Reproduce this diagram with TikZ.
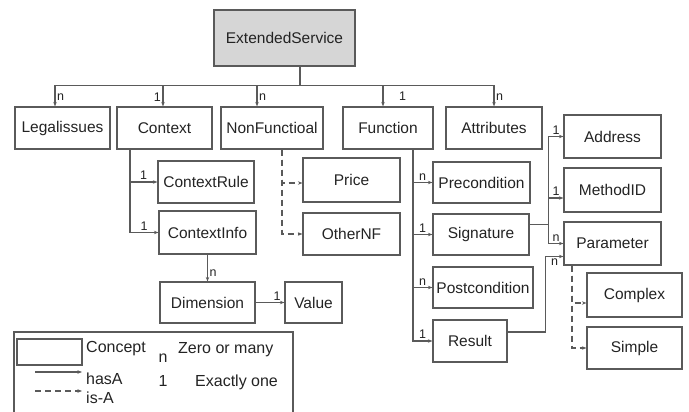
\documentclass[tikz,border=0pt]{standalone}
\usepackage{fontspec}
\setmainfont{Liberation Sans}
\usetikzlibrary{arrows.meta}
\definecolor{linegray}{RGB}{90,90,90}
\definecolor{textgray}{RGB}{35,35,35}
\definecolor{esfill}{RGB}{214,214,214}
\begin{document}
\begin{tikzpicture}[x=1pt,y=-1pt,
	concept/.style={draw=linegray,line width=1.2pt,text=textgray,inner sep=0pt,font=\fontsize{15.5}{17}\selectfont},
	box/.style 2 args={concept,minimum width=#1,minimum height=#2},
	hasA/.style={draw=linegray,line width=1.1pt,-{Stealth[length=4.5pt,width=3.5pt]}},
	isA/.style={hasA,dash pattern=on 6pt off 4pt},
	card/.style={text=textgray,inner sep=1.5pt,font=\fontsize{12.5}{14}\selectfont},
	legtext/.style={text=textgray,inner sep=0pt,font=\fontsize{16}{18}\selectfont}]
	\useasboundingbox (0,0) rectangle (689,412);
	% top level
	\node[box={141}{56},fill=esfill] (es) at (284.5,38) {ExtendedService};
	\node[box={95}{42}] (legal) at (62.5,128) {Legalissues};
	\node[box={95}{42}] (context) at (164.5,128) {Context};
	\node[box={102}{42}] (nonf) at (272,128) {NonFunctioal};
	\node[box={90}{42}] (function) at (388,128) {Function};
	\node[box={96}{42}] (attributes) at (494,128) {Attributes};
	\draw[draw=linegray,line width=1.1pt] ([xshift=15.5pt]es.south) -- ++(0,19) coordinate (bus);
	\draw[hasA] (bus) -| ([xshift=-7.5pt]legal.north) node[card,pos=0.78,right]{n};
	\draw[hasA] (bus) -| ([xshift=-1.5pt]context.north) node[card,pos=0.78,left]{1};
	\draw[hasA] (bus) -| ([xshift=-15pt]nonf.north) node[card,pos=0.78,right]{n};
	\draw[hasA] (bus) -| ([xshift=-5pt]function.north) node[card,pos=0.76,right=14pt]{1};
	\draw[hasA] (bus) -| (attributes.north) node[card,pos=0.78,right]{n};
	% context
	\node[box={96}{42}] (crule) at (206,182) {ContextRule};
	\node[box={97}{43}] (cinfo) at (207.5,232.5) {ContextInfo};
	\node[box={95}{41}] (dim) at (207.5,302.5) {Dimension};
	\node[box={57}{41}] (value) at (313.5,302.5) {Value};
	\draw[hasA] ([xshift=-34.5pt]context.south) |- (crule.west) node[card,pos=0.75,above]{1};
	\draw[hasA] ([xshift=-34.5pt]context.south) |- (cinfo.west) node[card,pos=0.75,above]{1};
	\draw[hasA] (cinfo.south) -- (dim.north) node[card,pos=0.7,right]{n};
	\draw[hasA] (dim.east) -- (value.west) node[card,pos=0.75,above]{1};
	% non functional
	\node[box={97}{44}] (price) at (351.5,180) {Price};
	\node[box={97}{42}] (othernf) at (351.5,234) {OtherNF};
	\draw[isA] ([xshift=10pt]nonf.south) |- ([yshift=-3pt]price.west);
	\draw[isA] ([xshift=10pt]nonf.south) |- (othernf.west);
	% function
	\node[box={97}{41}] (precond) at (481.5,182.5) {Precondition};
	\node[box={96}{41}] (sig) at (481,234.5) {Signature};
	\node[box={100}{41}] (postcond) at (483,287.5) {Postcondition};
	\node[box={74}{42}] (result) at (470,341) {Result};
	\draw[hasA] ([xshift=25pt]function.south) |- (precond.west) node[card,pos=0.75,above]{n};
	\draw[hasA] ([xshift=25pt]function.south) |- (sig.west) node[card,pos=0.75,above]{1};
	\draw[hasA] ([xshift=25pt]function.south) |- (postcond.west) node[card,pos=0.75,above]{n};
	\draw[hasA] ([xshift=25pt]function.south) |- (result.west) node[card,pos=0.75,above]{1};
	% signature
	\node[box={97}{43}] (address) at (612.5,136.5) {Address};
	\node[box={97}{44}] (methodid) at (612.5,190) {MethodID};
	\node[box={97}{43}] (param) at (612.5,243.5) {Parameter};
	\node[box={95}{44}] (complex) at (634.5,295) {Complex};
	\node[box={95}{42}] (simple) at (634.5,348) {Simple};
	\draw[draw=linegray,line width=1.1pt] ([yshift=10pt]sig.east) -- ++(19,0) coordinate (sigj);
	\draw[hasA] (sigj) |- (address.west) node[card,pos=0.75,above]{1};
	\draw[hasA] (sigj) |- ([yshift=-8pt]methodid.west) node[card,pos=0.75,above]{1};
	\draw[hasA] (sigj) |- (param.west) node[card,pos=0.75,above]{n};
	\draw[hasA] ([yshift=9pt]result.east) -- ++(38,0) |- ([yshift=-13pt]param.west) node[card,pos=0.75,below]{n};
	\draw[isA] ([xshift=-40.5pt]param.south) |- ([yshift=-8pt]complex.west);
	\draw[isA] ([xshift=-40.5pt]param.south) |- (simple.west);
	% legend
	\draw[draw=linegray,line width=1.1pt] (14,412) |- (293,332) -- (293,412);
	\node[box={65}{26}] (legconcept) at (49.5,352) {};
	\node[legtext,anchor=west] (legconcepttxt) at (86,349) {Concept};
	\coordinate (hasastart) at (35,372);
	\coordinate (hasaend) at (82,372);
	\draw[hasA] (hasastart) -- (hasaend);
	\node[legtext,anchor=west] (leghasa) at (86,379) {hasA};
	\coordinate (isastart) at (35,391);
	\coordinate (isaend) at (82,391);
	\draw[isA] (isastart) -- (isaend);
	\node[legtext,anchor=west] (legisa) at (86,398) {is-A};
	\node[legtext] (legn) at (163,358) {n};
	\node[legtext,anchor=west] (legmany) at (178,350) {Zero or many};
	\node[legtext] (legone) at (163,381) {1};
	\node[legtext,anchor=west] (legexact) at (195,382) {Exactly one};
\end{tikzpicture}
\end{document}
